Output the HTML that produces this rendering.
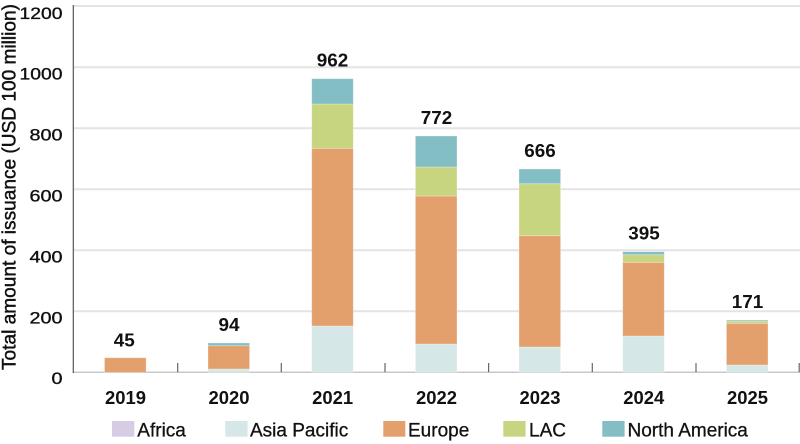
<!DOCTYPE html>
<html>
<head>
<meta charset="utf-8">
<style>
html,body{margin:0;padding:0;background:#fff;}
svg{display:block;}
text{font-family:"Liberation Sans","Noto Sans CJK JP",sans-serif;fill:#111;}
.yl{font-size:17px;text-anchor:end;stroke:#111;stroke-width:0.35;}
.xl{font-size:18px;font-weight:bold;text-anchor:middle;}
.dl{font-size:18px;font-weight:bold;text-anchor:middle;}
.lg{font-size:19px;stroke:#111;stroke-width:0.3;}
.tt{stroke:#111;stroke-width:0.45;}
</style>
</head>
<body>
<svg width="800" height="444" viewBox="0 0 800 444" xmlns="http://www.w3.org/2000/svg">
  <!-- gridlines -->
  <g stroke="#e4e4e4" stroke-width="2">
    <line x1="73" y1="6" x2="800" y2="6"/>
    <line x1="73" y1="67.3" x2="800" y2="67.3"/>
    <line x1="73" y1="128.3" x2="800" y2="128.3"/>
    <line x1="73" y1="189.3" x2="800" y2="189.3"/>
    <line x1="73" y1="250.3" x2="800" y2="250.3"/>
    <line x1="73" y1="311.3" x2="800" y2="311.3"/>
  </g>
  <!-- baseline -->
  <line x1="73" y1="372.3" x2="800" y2="372.3" stroke="#c8c8c8" stroke-width="1.5"/>
  <!-- y axis -->
  <line x1="73.3" y1="5" x2="73.3" y2="373" stroke="#555" stroke-width="1.2"/>
  <!-- category ticks -->
  <g stroke="#666" stroke-width="1.2">
    <line x1="177.7" y1="363" x2="177.7" y2="372"/>
    <line x1="281.3" y1="363" x2="281.3" y2="372"/>
    <line x1="385" y1="363" x2="385" y2="372"/>
    <line x1="488.6" y1="363" x2="488.6" y2="372"/>
    <line x1="592.3" y1="363" x2="592.3" y2="372"/>
    <line x1="696" y1="363" x2="696" y2="372"/>
    <line x1="799.2" y1="363" x2="799.2" y2="372"/>
  </g>

  <!-- y labels -->
  <text class="yl" x="62.5" y="19" textLength="43" lengthAdjust="spacingAndGlyphs">1200</text>
  <text class="yl" x="62.5" y="79.5" textLength="43" lengthAdjust="spacingAndGlyphs">1000</text>
  <text class="yl" x="62.5" y="140.5" textLength="33" lengthAdjust="spacingAndGlyphs">800</text>
  <text class="yl" x="62.5" y="201.5" textLength="33" lengthAdjust="spacingAndGlyphs">600</text>
  <text class="yl" x="62.5" y="262.5" textLength="33" lengthAdjust="spacingAndGlyphs">400</text>
  <text class="yl" x="62.5" y="323.5" textLength="33" lengthAdjust="spacingAndGlyphs">200</text>
  <text class="yl" x="62.5" y="384" textLength="11" lengthAdjust="spacingAndGlyphs">0</text>

  <!-- y title -->
  <text class="tt" x="0" y="0" font-size="19" transform="translate(15.5,370) rotate(-90)" textLength="366" lengthAdjust="spacingAndGlyphs">Total amount of issuance (USD 100 million)</text>

  <!-- bars -->
  <g stroke="#ffffff" stroke-opacity="0.35" stroke-width="0.8">
    <rect x="104.5" y="357.7" width="41.6" height="14.6" fill="#e3a06d"/>
    <rect x="208" y="369" width="41.6" height="3.3" fill="#d5e7e7"/>
    <rect x="208" y="345.7" width="41.6" height="23.3" fill="#e3a06d"/>
    <rect x="208" y="343" width="41.6" height="2.7" fill="#83bec4"/>
    <rect x="311.7" y="326" width="41.6" height="46.3" fill="#d5e7e7"/>
    <rect x="311.7" y="148.3" width="41.6" height="177.7" fill="#e3a06d"/>
    <rect x="311.7" y="104" width="41.6" height="44.3" fill="#c8d580"/>
    <rect x="311.7" y="78.7" width="41.6" height="25.3" fill="#83bec4"/>
    <rect x="415.4" y="344" width="41.6" height="28.3" fill="#d5e7e7"/>
    <rect x="415.4" y="196" width="41.6" height="148" fill="#e3a06d"/>
    <rect x="415.4" y="167" width="41.6" height="29" fill="#c8d580"/>
    <rect x="415.4" y="136" width="41.6" height="31" fill="#83bec4"/>
    <rect x="519" y="347" width="41.6" height="25.3" fill="#d5e7e7"/>
    <rect x="519" y="235.7" width="41.6" height="111.3" fill="#e3a06d"/>
    <rect x="519" y="183.7" width="41.6" height="52" fill="#c8d580"/>
    <rect x="519" y="169" width="41.6" height="14.7" fill="#83bec4"/>
    <rect x="622.7" y="336" width="41.6" height="36.3" fill="#d5e7e7"/>
    <rect x="622.7" y="262.3" width="41.6" height="73.7" fill="#e3a06d"/>
    <rect x="622.7" y="254.7" width="41.6" height="7.6" fill="#c8d580"/>
    <rect x="622.7" y="251.7" width="41.6" height="3" fill="#83bec4"/>
    <rect x="726.4" y="365" width="41.6" height="7.3" fill="#d5e7e7"/>
    <rect x="726.4" y="323.3" width="41.6" height="41.7" fill="#e3a06d"/>
    <rect x="726.4" y="321" width="41.6" height="2.3" fill="#c8d580"/>
    <rect x="726.4" y="320" width="41.6" height="1" fill="#83bec4"/>
  </g>

  <!-- data labels -->
  <text class="dl" x="124.3" y="346.5" textLength="21" lengthAdjust="spacingAndGlyphs">45</text>
  <text class="dl" x="229" y="331" textLength="21" lengthAdjust="spacingAndGlyphs">94</text>
  <text class="dl" x="332.5" y="66.7" textLength="31.5" lengthAdjust="spacingAndGlyphs">962</text>
  <text class="dl" x="436.5" y="124" textLength="31.5" lengthAdjust="spacingAndGlyphs">772</text>
  <text class="dl" x="540" y="157" textLength="31.5" lengthAdjust="spacingAndGlyphs">666</text>
  <text class="dl" x="644" y="239.5" textLength="31.5" lengthAdjust="spacingAndGlyphs">395</text>
  <text class="dl" x="747.5" y="308" textLength="31.5" lengthAdjust="spacingAndGlyphs">171</text>

  <!-- x labels -->
  <text class="xl" x="125.5" y="404" textLength="41" lengthAdjust="spacingAndGlyphs">2019</text>
  <text class="xl" x="229" y="404" textLength="41" lengthAdjust="spacingAndGlyphs">2020</text>
  <text class="xl" x="332.7" y="404" textLength="41" lengthAdjust="spacingAndGlyphs">2021</text>
  <text class="xl" x="436.5" y="404" textLength="41" lengthAdjust="spacingAndGlyphs">2022</text>
  <text class="xl" x="540" y="404" textLength="41" lengthAdjust="spacingAndGlyphs">2023</text>
  <text class="xl" x="643.8" y="404" textLength="41" lengthAdjust="spacingAndGlyphs">2024</text>
  <text class="xl" x="747.5" y="404" textLength="41" lengthAdjust="spacingAndGlyphs">2025</text>

  <!-- legend -->
  <rect x="112" y="421" width="22.3" height="15.7" fill="#d6cde4"/>
  <text class="lg" x="137.3" y="436.7">Africa</text>
  <rect x="225.3" y="421" width="22.3" height="15.7" fill="#d5e7e7"/>
  <text class="lg" x="250" y="436.7">Asia Pacific</text>
  <rect x="383.3" y="421" width="22" height="15.7" fill="#e3a06d"/>
  <text class="lg" x="408" y="436.7">Europe</text>
  <rect x="503.3" y="421" width="22.3" height="15.7" fill="#c8d580"/>
  <text class="lg" x="529" y="436.7">LAC</text>
  <rect x="602.3" y="421" width="22.3" height="15.7" fill="#83bec4"/>
  <text class="lg" x="627.5" y="436.7">North America</text>
</svg>
</body>
</html>
